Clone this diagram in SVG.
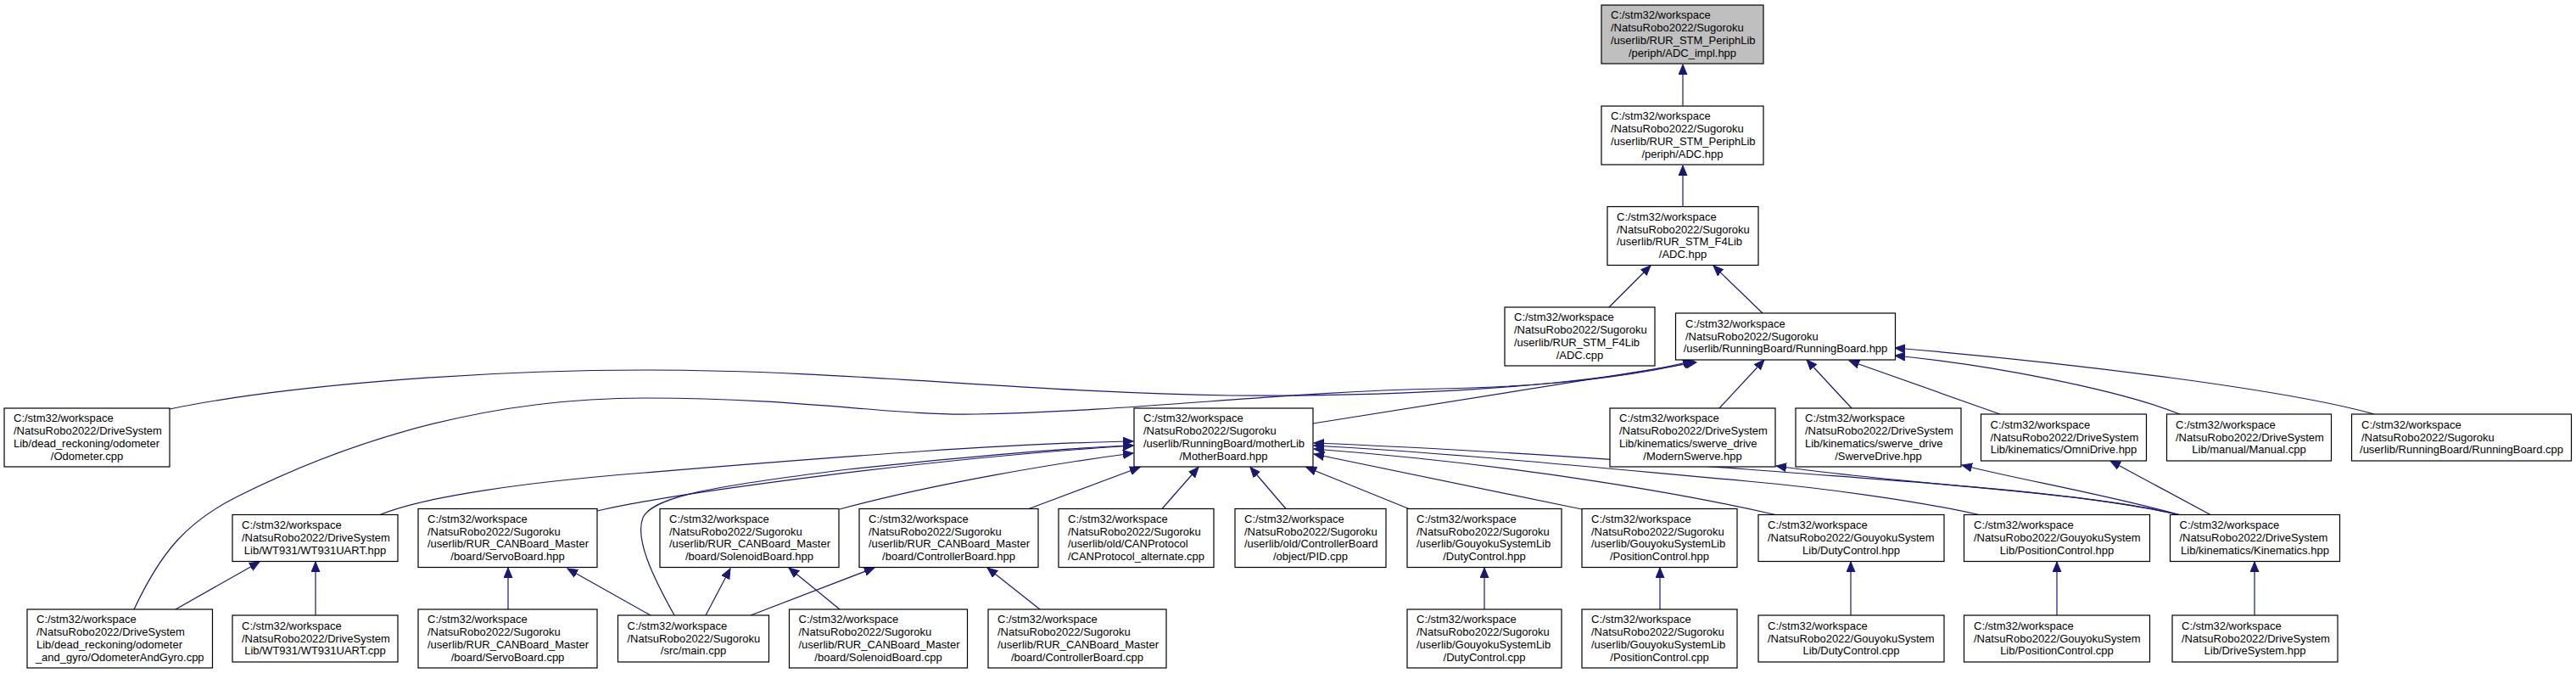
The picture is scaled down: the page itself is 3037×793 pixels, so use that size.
<svg xmlns="http://www.w3.org/2000/svg" width="3037" height="793" viewBox="0 0 3037 793">
<style>
.bg{fill:#fff}
.n{fill:#fff;stroke:#000;stroke-width:1.2}
.r{fill:#bfbfbf;stroke:#000;stroke-width:1.2}
.t{font-family:"Liberation Sans",Arial,Helvetica,sans-serif;font-size:13px;fill:#000}
.c{text-anchor:middle}
.e path{fill:none;stroke:#191970;stroke-width:1.2;marker-end:url(#a)}
</style>
<defs>
<marker id="a" markerUnits="userSpaceOnUse" markerWidth="13" markerHeight="11" viewBox="0 0 13 11" refX="12" refY="5.5" orient="auto">
<path d="M0,0.5 L12,5.5 L0,10.5 z" fill="#191970" stroke="#191970" stroke-width="1"/>
</marker>
</defs>
<rect class="bg" x="0" y="0" width="3037" height="793"/>

<g id="edges" class="e">
<path d="M1984,125 L1984,76"/>
<path d="M1984,243.5 L1984,195"/>
<path d="M1897,362 L1946,313"/>
<path d="M2078,369 L2020,313"/>
<path d="M200,482 C330,455 560,436 760,436 C1000,436 1200,462 1450,466 C1700,468 1900,450 1996,425"/>
<path d="M158,718 C190,650 220,615 280,585 C420,515 580,469 760,469 C950,469 1050,490 1150,488 C1350,484 1500,462 1700,458 C1850,455 1940,440 1998,426"/>
<path d="M1548,499 L2000,427"/>
<path d="M2027,481 L2080,424"/>
<path d="M2183,481 L2130,424"/>
<path d="M2358,488 L2180,425"/>
<path d="M2570,488 C2500,460 2350,430 2234,419"/>
<path d="M2799,488 C2700,460 2450,428 2234,410"/>
<path d="M448,606.5 C500,585 620,568 760,557 C1000,537 1200,522 1336,520"/>
<path d="M704,602 C800,580 1100,540 1336,525"/>
<path d="M795,725 C770,680 748,635 758,610 C770,585 840,573 1000,553 C1150,537 1250,528 1336,525"/>
<path d="M990,600 C1100,570 1250,545 1336,534"/>
<path d="M1213,599.5 L1344,550.5"/>
<path d="M1370,599.5 L1413,550.5"/>
<path d="M1516,599.5 L1474,550.5"/>
<path d="M1661,599.5 L1540,550.5"/>
<path d="M1865,600 L1549,535"/>
<path d="M2093,606.5 C2000,585 1800,548 1549,529"/>
<path d="M2333,606.5 C2260,590 2150,575 2060,567 C1850,548 1700,533 1549,525"/>
<path d="M2569,606.5 C2440,578 2250,568 2060,553 C1850,537 1700,528 1549,522"/>
<path d="M2569,606.5 C2450,578 2250,572 2094,549"/>
<path d="M2569,606.5 C2480,582 2380,565 2313,548"/>
<path d="M2606,606.5 L2488,543"/>
<path d="M207,718 L306,662"/>
<path d="M372,725 L372,662"/>
<path d="M599,718 L599,669"/>
<path d="M767,725 L669,670"/>
<path d="M832,725 L861,670"/>
<path d="M990,718 L930,669"/>
<path d="M885,725 L1031,669"/>
<path d="M1226,718 L1164,669"/>
<path d="M1750,718 L1750,669"/>
<path d="M1957,718 L1957,669"/>
<path d="M2182,725 L2182,662"/>
<path d="M2425,725 L2425,662"/>
<path d="M2658,725 L2658,662"/>
</g>

<g id="n1"><rect class="r" x="1888" y="6" width="191" height="69"/><text class="t"><tspan x="1899" y="22.4">C:/stm32/workspace</tspan><tspan x="1899" y="37.1">/NatsuRobo2022/Sugoroku</tspan><tspan x="1899" y="51.8">/userlib/RUR_STM_PeriphLib</tspan></text><text class="t c" x="1983.5" y="66.5">/periph/ADC_impl.hpp</text></g>

<g id="n2"><rect class="n" x="1888" y="125" width="191" height="69"/><text class="t"><tspan x="1899" y="141.4">C:/stm32/workspace</tspan><tspan x="1899" y="156.1">/NatsuRobo2022/Sugoroku</tspan><tspan x="1899" y="170.8">/userlib/RUR_STM_PeriphLib</tspan></text><text class="t c" x="1983.5" y="185.5">/periph/ADC.hpp</text></g>

<g id="n3"><rect class="n" x="1895" y="243.5" width="178" height="69"/><text class="t"><tspan x="1906" y="259.9">C:/stm32/workspace</tspan><tspan x="1906" y="274.6">/NatsuRobo2022/Sugoroku</tspan><tspan x="1906" y="289.3">/userlib/RUR_STM_F4Lib</tspan></text><text class="t c" x="1984" y="304">/ADC.hpp</text></g>

<g id="n4"><rect class="n" x="1774" y="362" width="177" height="69"/><text class="t"><tspan x="1785" y="378.4">C:/stm32/workspace</tspan><tspan x="1785" y="393.1">/NatsuRobo2022/Sugoroku</tspan><tspan x="1785" y="407.8">/userlib/RUR_STM_F4Lib</tspan></text><text class="t c" x="1862.5" y="422.5">/ADC.cpp</text></g>

<g id="n5"><rect class="n" x="1975.5" y="369" width="259" height="55"/><text class="t"><tspan x="1987" y="385.8">C:/stm32/workspace</tspan><tspan x="1987" y="400.5">/NatsuRobo2022/Sugoroku</tspan></text><text class="t c" x="2105" y="415.2">/userlib/RunningBoard/RunningBoard.hpp</text></g>

<g id="n6"><rect class="n" x="5" y="481" width="195" height="69"/><text class="t"><tspan x="16" y="497.4">C:/stm32/workspace</tspan><tspan x="16" y="512.1">/NatsuRobo2022/DriveSystem</tspan><tspan x="16" y="526.8">Lib/dead_reckoning/odometer</tspan></text><text class="t c" x="102.5" y="541.5">/Odometer.cpp</text></g>

<g id="n7"><rect class="n" x="1337" y="481" width="211" height="69"/><text class="t"><tspan x="1348" y="497.4">C:/stm32/workspace</tspan><tspan x="1348" y="512.1">/NatsuRobo2022/Sugoroku</tspan><tspan x="1348" y="526.8">/userlib/RunningBoard/motherLib</tspan></text><text class="t c" x="1442.5" y="541.5">/MotherBoard.hpp</text></g>

<g id="n8"><rect class="n" x="1898" y="481" width="195" height="69"/><text class="t"><tspan x="1909" y="497.4">C:/stm32/workspace</tspan><tspan x="1909" y="512.1">/NatsuRobo2022/DriveSystem</tspan><tspan x="1909" y="526.8">Lib/kinematics/swerve_drive</tspan></text><text class="t c" x="1995.5" y="541.5">/ModernSwerve.hpp</text></g>

<g id="n9"><rect class="n" x="2117" y="481" width="195" height="69"/><text class="t"><tspan x="2128" y="497.4">C:/stm32/workspace</tspan><tspan x="2128" y="512.1">/NatsuRobo2022/DriveSystem</tspan><tspan x="2128" y="526.8">Lib/kinematics/swerve_drive</tspan></text><text class="t c" x="2214.5" y="541.5">/SwerveDrive.hpp</text></g>

<g id="n10"><rect class="n" x="2335.5" y="488" width="195" height="55"/><text class="t"><tspan x="2346.5" y="504.8">C:/stm32/workspace</tspan><tspan x="2346.5" y="519.5">/NatsuRobo2022/DriveSystem</tspan></text><text class="t c" x="2433" y="534.2">Lib/kinematics/OmniDrive.hpp</text></g>

<g id="n11"><rect class="n" x="2554.5" y="488" width="194" height="55"/><text class="t"><tspan x="2565" y="504.8">C:/stm32/workspace</tspan><tspan x="2565" y="519.5">/NatsuRobo2022/DriveSystem</tspan></text><text class="t c" x="2651.5" y="534.2">Lib/manual/Manual.cpp</text></g>

<g id="n12"><rect class="n" x="2772.5" y="488" width="259" height="55"/><text class="t"><tspan x="2784" y="504.8">C:/stm32/workspace</tspan><tspan x="2784" y="519.5">/NatsuRobo2022/Sugoroku</tspan></text><text class="t c" x="2902" y="534.2">/userlib/RunningBoard/RunningBoard.cpp</text></g>

<g id="n13"><rect class="n" x="274" y="606.5" width="195" height="55"/><text class="t"><tspan x="285" y="623.3">C:/stm32/workspace</tspan><tspan x="285" y="638">/NatsuRobo2022/DriveSystem</tspan></text><text class="t c" x="371.5" y="652.7">Lib/WT931/WT931UART.hpp</text></g>

<g id="n14"><rect class="n" x="493" y="599.5" width="211" height="69"/><text class="t"><tspan x="504" y="615.9">C:/stm32/workspace</tspan><tspan x="504" y="630.6">/NatsuRobo2022/Sugoroku</tspan><tspan x="504" y="645.3">/userlib/RUR_CANBoard_Master</tspan></text><text class="t c" x="598.5" y="660">/board/ServoBoard.hpp</text></g>

<g id="n15"><rect class="n" x="778" y="599.5" width="211" height="69"/><text class="t"><tspan x="789" y="615.9">C:/stm32/workspace</tspan><tspan x="789" y="630.6">/NatsuRobo2022/Sugoroku</tspan><tspan x="789" y="645.3">/userlib/RUR_CANBoard_Master</tspan></text><text class="t c" x="883.5" y="660">/board/SolenoidBoard.hpp</text></g>

<g id="n16"><rect class="n" x="1013" y="599.5" width="211" height="69"/><text class="t"><tspan x="1024" y="615.9">C:/stm32/workspace</tspan><tspan x="1024" y="630.6">/NatsuRobo2022/Sugoroku</tspan><tspan x="1024" y="645.3">/userlib/RUR_CANBoard_Master</tspan></text><text class="t c" x="1118.5" y="660">/board/ControllerBoard.hpp</text></g>

<g id="n17"><rect class="n" x="1248" y="599.5" width="183" height="69"/><text class="t"><tspan x="1259" y="615.9">C:/stm32/workspace</tspan><tspan x="1259" y="630.6">/NatsuRobo2022/Sugoroku</tspan><tspan x="1259" y="645.3">/userlib/old/CANProtocol</tspan></text><text class="t c" x="1339.5" y="660">/CANProtocol_alternate.cpp</text></g>

<g id="n18"><rect class="n" x="1456" y="599.5" width="178" height="69"/><text class="t"><tspan x="1467" y="615.9">C:/stm32/workspace</tspan><tspan x="1467" y="630.6">/NatsuRobo2022/Sugoroku</tspan><tspan x="1467" y="645.3">/userlib/old/ControllerBoard</tspan></text><text class="t c" x="1545" y="660">/object/PID.cpp</text></g>

<g id="n19"><rect class="n" x="1659" y="599.5" width="182" height="69"/><text class="t"><tspan x="1670" y="615.9">C:/stm32/workspace</tspan><tspan x="1670" y="630.6">/NatsuRobo2022/Sugoroku</tspan><tspan x="1670" y="645.3">/userlib/GouyokuSystemLib</tspan></text><text class="t c" x="1750" y="660">/DutyControl.hpp</text></g>

<g id="n20"><rect class="n" x="1865" y="599.5" width="183" height="69"/><text class="t"><tspan x="1876" y="615.9">C:/stm32/workspace</tspan><tspan x="1876" y="630.6">/NatsuRobo2022/Sugoroku</tspan><tspan x="1876" y="645.3">/userlib/GouyokuSystemLib</tspan></text><text class="t c" x="1956.5" y="660">/PositionControl.hpp</text></g>

<g id="n21"><rect class="n" x="2073" y="606.5" width="219" height="55"/><text class="t"><tspan x="2084" y="623.3">C:/stm32/workspace</tspan><tspan x="2084" y="638">/NatsuRobo2022/GouyokuSystem</tspan></text><text class="t c" x="2182.5" y="652.7">Lib/DutyControl.hpp</text></g>

<g id="n22"><rect class="n" x="2315.5" y="606.5" width="219" height="55"/><text class="t"><tspan x="2327" y="623.3">C:/stm32/workspace</tspan><tspan x="2327" y="638">/NatsuRobo2022/GouyokuSystem</tspan></text><text class="t c" x="2425" y="652.7">Lib/PositionControl.hpp</text></g>

<g id="n23"><rect class="n" x="2558.5" y="606.5" width="200" height="55"/><text class="t"><tspan x="2569.5" y="623.3">C:/stm32/workspace</tspan><tspan x="2569.5" y="638">/NatsuRobo2022/DriveSystem</tspan></text><text class="t c" x="2658.5" y="652.7">Lib/kinematics/Kinematics.hpp</text></g>

<g id="n24"><rect class="n" x="32" y="718" width="218.5" height="69"/><text class="t"><tspan x="43" y="734.4">C:/stm32/workspace</tspan><tspan x="43" y="749.1">/NatsuRobo2022/DriveSystem</tspan><tspan x="43" y="763.8">Lib/dead_reckoning/odometer</tspan></text><text class="t c" x="141.25" y="778.5">_and_gyro/OdometerAndGyro.cpp</text></g>

<g id="n25"><rect class="n" x="274" y="725" width="195" height="55"/><text class="t"><tspan x="285" y="741.8">C:/stm32/workspace</tspan><tspan x="285" y="756.5">/NatsuRobo2022/DriveSystem</tspan></text><text class="t c" x="371.5" y="771.2">Lib/WT931/WT931UART.cpp</text></g>

<g id="n26"><rect class="n" x="493" y="718" width="211" height="69"/><text class="t"><tspan x="504" y="734.4">C:/stm32/workspace</tspan><tspan x="504" y="749.1">/NatsuRobo2022/Sugoroku</tspan><tspan x="504" y="763.8">/userlib/RUR_CANBoard_Master</tspan></text><text class="t c" x="598.5" y="778.5">/board/ServoBoard.cpp</text></g>

<g id="n27"><rect class="n" x="728.5" y="725" width="178" height="55"/><text class="t"><tspan x="739.5" y="741.8">C:/stm32/workspace</tspan><tspan x="739.5" y="756.5">/NatsuRobo2022/Sugoroku</tspan></text><text class="t c" x="817.5" y="771.2">/src/main.cpp</text></g>

<g id="n28"><rect class="n" x="930.5" y="718" width="210" height="69"/><text class="t"><tspan x="941.5" y="734.4">C:/stm32/workspace</tspan><tspan x="941.5" y="749.1">/NatsuRobo2022/Sugoroku</tspan><tspan x="941.5" y="763.8">/userlib/RUR_CANBoard_Master</tspan></text><text class="t c" x="1035.5" y="778.5">/board/SolenoidBoard.cpp</text></g>

<g id="n29"><rect class="n" x="1165" y="718" width="210" height="69"/><text class="t"><tspan x="1176" y="734.4">C:/stm32/workspace</tspan><tspan x="1176" y="749.1">/NatsuRobo2022/Sugoroku</tspan><tspan x="1176" y="763.8">/userlib/RUR_CANBoard_Master</tspan></text><text class="t c" x="1270" y="778.5">/board/ControllerBoard.cpp</text></g>

<g id="n30"><rect class="n" x="1659" y="718" width="182" height="69"/><text class="t"><tspan x="1670" y="734.4">C:/stm32/workspace</tspan><tspan x="1670" y="749.1">/NatsuRobo2022/Sugoroku</tspan><tspan x="1670" y="763.8">/userlib/GouyokuSystemLib</tspan></text><text class="t c" x="1750" y="778.5">/DutyControl.cpp</text></g>

<g id="n31"><rect class="n" x="1865" y="718" width="183" height="69"/><text class="t"><tspan x="1876" y="734.4">C:/stm32/workspace</tspan><tspan x="1876" y="749.1">/NatsuRobo2022/Sugoroku</tspan><tspan x="1876" y="763.8">/userlib/GouyokuSystemLib</tspan></text><text class="t c" x="1956.5" y="778.5">/PositionControl.cpp</text></g>

<g id="n32"><rect class="n" x="2073" y="725" width="219" height="55"/><text class="t"><tspan x="2084" y="741.8">C:/stm32/workspace</tspan><tspan x="2084" y="756.5">/NatsuRobo2022/GouyokuSystem</tspan></text><text class="t c" x="2182.5" y="771.2">Lib/DutyControl.cpp</text></g>

<g id="n33"><rect class="n" x="2315.5" y="725" width="219" height="55"/><text class="t"><tspan x="2327" y="741.8">C:/stm32/workspace</tspan><tspan x="2327" y="756.5">/NatsuRobo2022/GouyokuSystem</tspan></text><text class="t c" x="2425" y="771.2">Lib/PositionControl.cpp</text></g>

<g id="n34"><rect class="n" x="2561" y="725" width="195" height="55"/><text class="t"><tspan x="2572" y="741.8">C:/stm32/workspace</tspan><tspan x="2572" y="756.5">/NatsuRobo2022/DriveSystem</tspan></text><text class="t c" x="2658.5" y="771.2">Lib/DriveSystem.hpp</text></g>
</svg>
